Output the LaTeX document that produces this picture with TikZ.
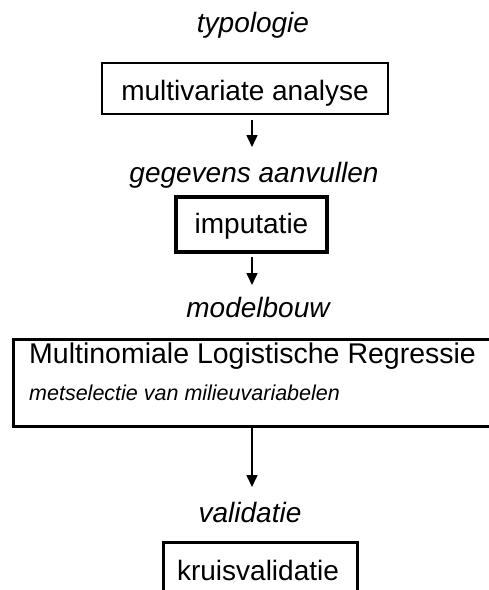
\documentclass[tikz,border=0pt]{standalone}
\usepackage{fontspec}
\setmainfont{Liberation Sans}
\usetikzlibrary{arrows.meta}
\begin{document}
\begin{tikzpicture}[x=1pt,y=-1pt,
  lbl/.style={inner sep=0pt,anchor=base,font=\fontsize{28}{34}\selectfont\itshape},
  boxn/.style={draw=black,inner sep=0pt,font=\fontsize{28}{34}\selectfont},
  arr/.style={line width=1.6pt,-{Triangle[length=12pt,width=11pt]}}]
\useasboundingbox (0,0) rectangle (489,590);
\fill[white] (0,0) rectangle (489,590);
\clip (0,0) rectangle (489,590);
\node[lbl] (typ) at (253,32) {typologie};
\node[boxn,line width=2pt,minimum width=286pt,minimum height=51pt,text height=23pt,text depth=0pt] (b1) at (245,88.5) {multivariate analyse};
\coordinate (a1s) at (252,120);
\coordinate (a1e) at (252,147);
\draw[arr] (a1s) -- (a1e);
\node[lbl] (gev) at (254,182) {gegevens aanvullen};
\node[boxn,line width=3.5pt,minimum width=151pt,minimum height=55pt,text height=17pt,text depth=0pt] (b2) at (251.5,224.5) {imputatie};
\coordinate (a2s) at (252,257);
\coordinate (a2e) at (252,285);
\draw[arr] (a2s) -- (a2e);
\node[lbl] (mod) at (258,317) {modelbouw};
\node[draw=black,line width=2.5pt,inner sep=0pt,minimum width=500pt,minimum height=87pt,anchor=north west] (b3) at (12,338) {};
\node[inner sep=0pt,anchor=base west,font=\fontsize{28.5}{34}\selectfont] (mlr) at (29,363) {Multinomiale Logistische Regressie};
\node[inner sep=0pt,anchor=base west,font=\fontsize{21.5}{26}\selectfont\itshape] (sel) at (29,400) {metselectie van milieuvariabelen};
\coordinate (a3s) at (252,428);
\coordinate (a3e) at (252,487);
\draw[arr] (a3s) -- (a3e);
\node[lbl] (val) at (250,522) {validatie};
\node[boxn,line width=3pt,minimum width=194pt,minimum height=80pt,text height=10pt,text depth=10pt,anchor=north] (b4) at (260,541) {};
\node[inner sep=0pt,anchor=base,font=\fontsize{28}{34}\selectfont] (kru) at (258,580) {kruisvalidatie};
\end{tikzpicture}
\end{document}
